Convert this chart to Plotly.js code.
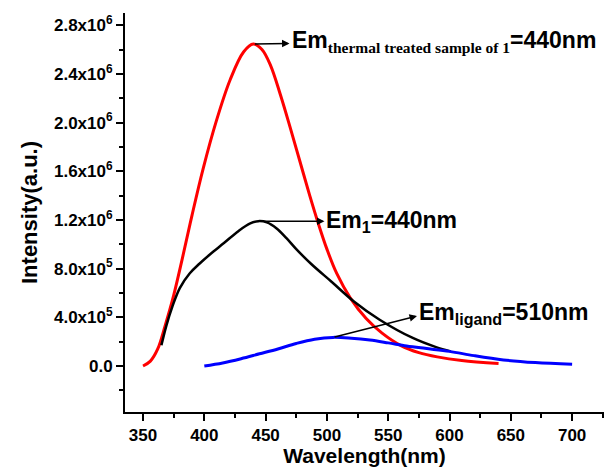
<!DOCTYPE html>
<html>
<head>
<meta charset="utf-8">
<script src="https://cdn.plot.ly/plotly-3.0.1.min.js"></script>
<style>html,body{margin:0;padding:0;background:#fff;}#chart{width:604px;height:467px;}</style>
</head>
<body>
<div id="chart"></div>
<script>
// Thermal treated sample of 1 (red)
const thermalX = [350, 356, 362, 368, 375, 382, 390, 399, 410, 421, 432, 440, 447, 454, 462, 470, 478, 486, 493, 500, 508, 519, 532, 545, 560, 575, 590, 610, 640];
const thermalY = [0.0, 0.04e6, 0.14e6, 0.33e6, 0.58e6, 0.88e6, 1.24e6, 1.62e6, 2.02e6, 2.35e6, 2.58e6, 2.645e6, 2.60e6, 2.47e6, 2.23e6, 1.96e6, 1.68e6, 1.40e6, 1.17e6, 0.96e6, 0.76e6, 0.56e6, 0.39e6, 0.27e6, 0.17e6, 0.11e6, 0.075e6, 0.045e6, 0.02e6];
// Sample 1 (black)
const sample1X = [365, 369, 374, 380, 388, 396, 405, 416, 428, 437, 444, 451, 459, 467, 475, 487, 504, 522, 543, 570, 589, 601];
const sample1Y = [0.17e6, 0.33e6, 0.49e6, 0.64e6, 0.76e6, 0.84e6, 0.92e6, 1.01e6, 1.11e6, 1.17e6, 1.19e6, 1.18e6, 1.13e6, 1.05e6, 0.96e6, 0.84e6, 0.69e6, 0.53e6, 0.38e6, 0.23e6, 0.155e6, 0.12e6];
// Ligand (blue)
const ligandX = [400, 415, 430, 445, 460, 475, 490, 505, 520, 535, 550, 565, 580, 600, 620, 644, 670, 700];
const ligandY = [0.0, 0.025e6, 0.06e6, 0.10e6, 0.14e6, 0.185e6, 0.22e6, 0.235e6, 0.228e6, 0.213e6, 0.19e6, 0.165e6, 0.145e6, 0.12e6, 0.085e6, 0.05e6, 0.028e6, 0.014e6];

const yTickVals = [0, 4e5, 8e5, 1.2e6, 1.6e6, 2.0e6, 2.4e6, 2.8e6];
const yTickText = ['0.0', '4.0x10<sup>5</sup>', '8.0x10<sup>5</sup>', '1.2x10<sup>6</sup>', '1.6x10<sup>6</sup>', '2.0x10<sup>6</sup>', '2.4x10<sup>6</sup>', '2.8x10<sup>6</sup>'];
const xTickVals = [350, 400, 450, 500, 550, 600, 650, 700];

function peak(xs, ys) {
  let i = 0;
  ys.forEach((v, k) => { if (v > ys[i]) i = k; });
  return [xs[i], ys[i]];
}

const FONT = 'Liberation Sans, Arial, sans-serif';

const traces = [
  {x: thermalX, y: thermalY, mode: 'lines', line: {color: '#ff0000', width: 3, shape: 'spline', smoothing: 1}, name: 'thermal treated sample of 1'},
  {x: sample1X, y: sample1Y, mode: 'lines', line: {color: '#000000', width: 2.5, shape: 'spline', smoothing: 1}, name: '1'},
  {x: ligandX, y: ligandY, mode: 'lines', line: {color: '#0000ff', width: 3, shape: 'spline', smoothing: 1}, name: 'ligand'}
];

const pT = peak(thermalX, thermalY);
const p1 = peak(sample1X, sample1Y);
const pL = peak(ligandX, ligandY);

function arrow(tail, hx, hy) {
  return {x: hx, y: hy, ax: tail[0], ay: tail[1], axref: 'x', ayref: 'y', xref: 'x', yref: 'y',
    text: '', showarrow: true, arrowhead: 2, arrowsize: 1, arrowwidth: 1.5, arrowcolor: '#000', standoff: 0, startstandoff: 0};
}
function label(txt, x, y) {
  return {x: x, y: y, xref: 'x', yref: 'y', text: txt, showarrow: false, xanchor: 'left', yanchor: 'middle',
    font: {family: FONT, size: 23, color: '#000', weight: 'bold'}};
}
const subStyle = "font-family:'Liberation Serif','Times New Roman',serif;font-size:15.5px";

const layout = {
  width: 604, height: 467,
  margin: {l: 125, r: 0, t: 13, b: 55},
  paper_bgcolor: '#fff', plot_bgcolor: '#fff',
  showlegend: false,
  font: {family: FONT, color: '#000'},
  xaxis: {
    range: [335.3, 726], tickmode: 'array', tickvals: xTickVals,
    showline: true, linewidth: 2, linecolor: '#000', mirror: false,
    ticks: 'outside', ticklen: 7, tickwidth: 2, tickcolor: '#000',
    minor: {tick0: 350, dtick: 25, ticks: 'outside', ticklen: 4, tickwidth: 2, tickcolor: '#000'},
    showgrid: false, zeroline: false,
    tickfont: {family: FONT, size: 17, weight: 'bold', color: '#000'},
    title: {text: 'Wavelength(nm)', font: {family: FONT, size: 21, weight: 'bold', color: '#000'}, standoff: 5}
  },
  yaxis: {
    range: [-0.378e6, 2.9e6], tickmode: 'array', tickvals: yTickVals, ticktext: yTickText,
    showline: true, linewidth: 2, linecolor: '#000', mirror: false,
    ticks: 'outside', ticklen: 7, tickwidth: 2, tickcolor: '#000',
    minor: {tick0: 0, dtick: 2e5, ticks: 'outside', ticklen: 4, tickwidth: 2, tickcolor: '#000'},
    showgrid: false, zeroline: false,
    tickfont: {family: FONT, size: 17, weight: 'bold', color: '#000'},
    title: {text: 'Intensity(a.u.)', font: {family: FONT, size: 22, weight: 'bold', color: '#000'}, standoff: 10}
  },
  annotations: [
    arrow(pT, 469.5, 2.65e6),
    label('Em<sub><span style="' + subStyle + '">thermal treated sample of 1</span></sub>=440nm', 469.5, 2.67e6),
    arrow(p1, 498, 1.19e6),
    label('Em<sub>1</sub>=440nm', 498, 1.19e6),
    arrow(pL, 573.5, 0.41e6),
    label('Em<sub>ligand</sub>=510nm', 573.5, 0.43e6)
  ]
};

Plotly.newPlot('chart', traces, layout, {displayModeBar: false, staticPlot: true});
</script>
</body>
</html>
